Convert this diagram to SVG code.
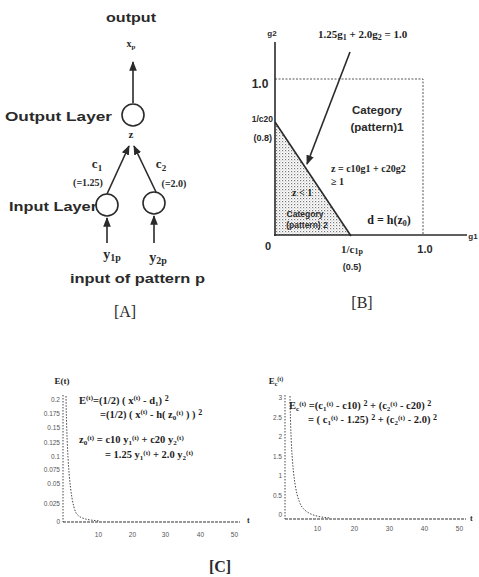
<svg xmlns="http://www.w3.org/2000/svg" width="479" height="577" viewBox="0 0 479 577">
<defs>
<style>
.sb{font-family:"Liberation Sans",Arial,sans-serif;font-weight:bold;fill:#2a2a2a}
.sr{font-family:"Liberation Serif","Times New Roman",serif;fill:#2a2a2a}
.fm{font-family:"Liberation Serif","Times New Roman",serif;fill:#1e1e1e;font-weight:bold}
.ln{stroke:#2a2a2a;stroke-width:1.6;fill:none}
.nd{stroke:#2a2a2a;stroke-width:1.6;fill:#fff}
.dot{stroke:#444;stroke-width:1;fill:none;stroke-dasharray:1.5 1.5}
.tk{font-family:"Liberation Sans",Arial,sans-serif;font-size:6.5px;fill:#555;text-anchor:end}
</style>
<marker id="ah" viewBox="0 0 10 10" refX="9" refY="5" markerWidth="6" markerHeight="6" orient="auto-start-reverse">
<path d="M0,1 L10,5 L0,9 z" fill="#2a2a2a"/>
</marker>
<pattern id="shade" width="3" height="3" patternUnits="userSpaceOnUse">
<rect width="3" height="3" fill="#fff"/>
<rect x="0" y="0" width="1.2" height="1.2" fill="#777"/>
<rect x="1.5" y="1.5" width="1" height="1" fill="#aaa"/>
</pattern>
</defs>

<!-- Panel A -->
<g id="connectors">
<line class="ln" x1="133" y1="103" x2="133" y2="62" marker-end="url(#ah)"/>
<line class="ln" x1="107" y1="194" x2="129" y2="146" marker-end="url(#ah)"/>
<line class="ln" x1="156" y1="192" x2="134" y2="146" marker-end="url(#ah)"/>
<line class="ln" x1="107" y1="243" x2="107" y2="218" marker-end="url(#ah)"/>
<line class="ln" x1="154" y1="243" x2="154" y2="216" marker-end="url(#ah)"/>
</g>
<g id="node-output">
<circle class="nd" cx="133" cy="115" r="11"/>
<text class="sr" x="131" y="138" font-size="11" font-weight="bold" text-anchor="middle">z</text>
</g>
<g id="node-input1">
<circle class="nd" cx="107" cy="205" r="11"/>
</g>
<g id="node-input2">
<circle class="nd" cx="154" cy="203" r="11"/>
</g>
<g id="labels-A">
<text class="sb" x="106" y="22" font-size="13" textLength="50" lengthAdjust="spacingAndGlyphs">output</text>
<text class="sr" x="131" y="47" font-size="10" font-weight="bold" text-anchor="middle">x<tspan font-size="7" dy="2">p</tspan></text>
<text class="sb" x="5" y="121" font-size="13.5" textLength="107" lengthAdjust="spacingAndGlyphs">Output Layer</text>
<text class="sb" x="9" y="211" font-size="13.5" textLength="88" lengthAdjust="spacingAndGlyphs">Input Layer</text>
<text class="sr" x="97" y="168" font-size="13" text-anchor="middle" font-weight="bold">c<tspan font-size="9" dy="3">1</tspan></text>
<text class="sr" x="88" y="186" font-size="10" text-anchor="middle" font-weight="bold">(=1.25)</text>
<text class="sr" x="161" y="168" font-size="13" text-anchor="middle" font-weight="bold">c<tspan font-size="9" dy="3">2</tspan></text>
<text class="sr" x="174" y="187" font-size="10" text-anchor="middle" font-weight="bold">(=2.0)</text>
<text class="sr" x="112" y="259" font-size="14" text-anchor="middle" font-weight="bold">y<tspan font-size="10" dy="2">1p</tspan></text>
<text class="sr" x="158" y="262" font-size="14" text-anchor="middle" font-weight="bold">y<tspan font-size="10" dy="2">2p</tspan></text>
<text class="sb" x="70" y="283" font-size="12.5" textLength="135" lengthAdjust="spacingAndGlyphs">input of pattern p</text>
<text class="sr" x="125" y="317" font-size="16" text-anchor="middle">[A]</text>
</g>

<!-- Panel B -->
<g id="plot-B">
<polygon points="275,122 350,235 275,235" fill="url(#shade)"/>
<polyline points="275,79 423,79 423,235" fill="none" stroke="#555" stroke-width="1" stroke-dasharray="2 1.5"/>
<line class="ln" x1="275" y1="42" x2="275" y2="236"/>
<line class="ln" x1="274" y1="235" x2="467" y2="235"/>
<line class="ln" x1="275" y1="122" x2="351" y2="236" stroke-width="1.3"/>
<line class="ln" x1="350" y1="52" x2="307" y2="164" stroke-width="2" marker-end="url(#ah)"/>
<text class="sb" x="272" y="36" font-size="8" text-anchor="middle">g2</text>
<text class="fm" x="318" y="38" font-size="11">1.25g<tspan font-size="8" dy="2">1</tspan><tspan dy="-2"> + 2.0g</tspan><tspan font-size="8" dy="2">2</tspan><tspan dy="-2"> = 1.0</tspan></text>
<text class="sb" x="260" y="88" font-size="12" text-anchor="middle">1.0</text>
<text class="sb" x="273" y="122" font-size="8.5" text-anchor="end">1/c20</text>
<text class="sb" x="272" y="141" font-size="9" text-anchor="end">(0.8)</text>
<text class="sb" x="377" y="114" font-size="11.5" text-anchor="middle">Category</text>
<text class="sb" x="377" y="131" font-size="11.5" text-anchor="middle">(pattern)1</text>
<text class="fm" x="331" y="172" font-size="10">z = c10g1 + c20g2</text>
<text class="fm" x="331" y="185" font-size="10">≥ 1</text>
<text class="fm" x="292" y="196" font-size="10">z &lt; 1</text>
<text class="sb" x="305" y="217" font-size="8.5" text-anchor="middle">Category</text>
<text class="sb" x="307" y="228" font-size="8.5" text-anchor="middle">(pattern) 2</text>
<text class="fm" x="389" y="224" font-size="12" text-anchor="middle">d = h(z<tspan font-size="8" dy="2">0</tspan><tspan dy="-2">)</tspan></text>
<text class="sb" x="473" y="239" font-size="8" text-anchor="middle">g1</text>
<text class="sb" x="268" y="250" font-size="11" text-anchor="middle">0</text>
<text class="sr" x="352" y="253" font-size="11" text-anchor="middle" font-weight="bold">1/c<tspan font-size="8" dy="1">1p</tspan></text>
<text class="sb" x="352" y="270" font-size="9" text-anchor="middle">(0.5)</text>
<text class="sb" x="425" y="253" font-size="11" text-anchor="middle">1.0</text>
<text class="sr" x="362" y="308" font-size="16" text-anchor="middle">[B]</text>
</g>

<!-- Panel C left -->
<g id="plot-C-left">
<line class="dot" x1="63" y1="395" x2="63" y2="522"/>
<line x1="63" y1="522" x2="240" y2="522" stroke="#333" stroke-width="1.2" stroke-dasharray="3 1"/>
<path class="dot" d="M66,396 C67,460 70,500 76,513 C80,519 88,520 100,521"/>
<text class="fm" x="62" y="384" font-size="9" text-anchor="middle">E(t)</text>
<text class="tk" x="60" y="402">0.2</text>
<text class="tk" x="60" y="416">0.175</text>
<text class="tk" x="60" y="430">0.15</text>
<text class="tk" x="60" y="445">0.125</text>
<text class="tk" x="60" y="459">0.1</text>
<text class="tk" x="60" y="472">0.075</text>
<text class="tk" x="60" y="486">0.05</text>
<text class="tk" x="60" y="506">0.025</text>
<text class="tk" x="60" y="524">0</text>
<text class="tk" x="102" y="537" text-anchor="middle">10</text>
<text class="tk" x="136" y="537" text-anchor="middle">20</text>
<text class="tk" x="169" y="537" text-anchor="middle">30</text>
<text class="tk" x="204" y="537" text-anchor="middle">40</text>
<text class="tk" x="238" y="537" text-anchor="middle">50</text>
<text class="sr" x="247" y="523" font-size="8" font-weight="bold">t</text>
<text class="fm" x="79" y="404" font-size="10.5">E<tspan font-size="7" dy="-4">(t)</tspan><tspan dy="4">=(1/2) ( x</tspan><tspan font-size="7" dy="-4">(t)</tspan><tspan dy="4"> - d</tspan><tspan font-size="7" dy="2">1</tspan><tspan dy="-2">) </tspan><tspan font-size="8" dy="-3">2</tspan></text>
<text class="fm" x="100" y="418" font-size="10.5">=(1/2) ( x<tspan font-size="7" dy="-4">(t)</tspan><tspan dy="4"> - h( z</tspan><tspan font-size="7" dy="2">0</tspan><tspan font-size="7" dy="-5">(t)</tspan><tspan dy="3"> ) ) </tspan><tspan font-size="8" dy="-3">2</tspan></text>
<text class="fm" x="79" y="443" font-size="10.5">z<tspan font-size="7" dy="2">0</tspan><tspan font-size="7" dy="-5">(t)</tspan><tspan dy="3"> = c10 y</tspan><tspan font-size="7" dy="2">1</tspan><tspan font-size="7" dy="-5">(t)</tspan><tspan dy="3"> + c20 y</tspan><tspan font-size="7" dy="2">2</tspan><tspan font-size="7" dy="-5">(t)</tspan></text>
<text class="fm" x="105" y="458" font-size="10.5">= 1.25 y<tspan font-size="7" dy="2">1</tspan><tspan font-size="7" dy="-5">(t)</tspan><tspan dy="3"> + 2.0 y</tspan><tspan font-size="7" dy="2">2</tspan><tspan font-size="7" dy="-5">(t)</tspan></text>
</g>

<!-- Panel C right -->
<g id="plot-C-right">
<line class="dot" x1="285" y1="395" x2="285" y2="519"/>
<line x1="285" y1="519" x2="466" y2="519" stroke="#333" stroke-width="1.2" stroke-dasharray="3 1"/>
<path class="dot" d="M290,396 C291,460 294,495 302,507 C308,515 318,517 330,518"/>
<text class="fm" x="276" y="384" font-size="9" text-anchor="middle">E<tspan font-size="6" dy="2">c</tspan><tspan font-size="6" dy="-5">(t)</tspan></text>
<text class="tk" x="282" y="400">3</text>
<text class="tk" x="282" y="420">2.5</text>
<text class="tk" x="282" y="439">2</text>
<text class="tk" x="282" y="459">1.5</text>
<text class="tk" x="282" y="478">1</text>
<text class="tk" x="282" y="498">0.5</text>
<text class="tk" x="282" y="517">0</text>
<text class="tk" x="321" y="531" text-anchor="middle">10</text>
<text class="tk" x="358" y="531" text-anchor="middle">20</text>
<text class="tk" x="393" y="531" text-anchor="middle">30</text>
<text class="tk" x="428" y="531" text-anchor="middle">40</text>
<text class="tk" x="463" y="531" text-anchor="middle">50</text>
<text class="sr" x="470" y="521" font-size="8" font-weight="bold">t</text>
<text class="fm" x="289" y="409" font-size="10.5">E<tspan font-size="7" dy="2">c</tspan><tspan font-size="7" dy="-5">(t)</tspan><tspan dy="3"> =(c</tspan><tspan font-size="7" dy="2">1</tspan><tspan font-size="7" dy="-5">(t)</tspan><tspan dy="3"> - c10) </tspan><tspan font-size="8" dy="-3">2</tspan><tspan dy="3"> + (c</tspan><tspan font-size="7" dy="2">2</tspan><tspan font-size="7" dy="-5">(t)</tspan><tspan dy="3"> - c20) </tspan><tspan font-size="8" dy="-3">2</tspan></text>
<text class="fm" x="308" y="423" font-size="10.5">= ( c<tspan font-size="7" dy="2">1</tspan><tspan font-size="7" dy="-5">(t)</tspan><tspan dy="3"> - 1.25) </tspan><tspan font-size="8" dy="-3">2</tspan><tspan dy="3"> + (c</tspan><tspan font-size="7" dy="2">2</tspan><tspan font-size="7" dy="-5">(t)</tspan><tspan dy="3"> - 2.0) </tspan><tspan font-size="8" dy="-3">2</tspan></text>
</g>

<text class="sr" x="220" y="572" font-size="16" font-weight="bold" text-anchor="middle">[C]</text>
</svg>
